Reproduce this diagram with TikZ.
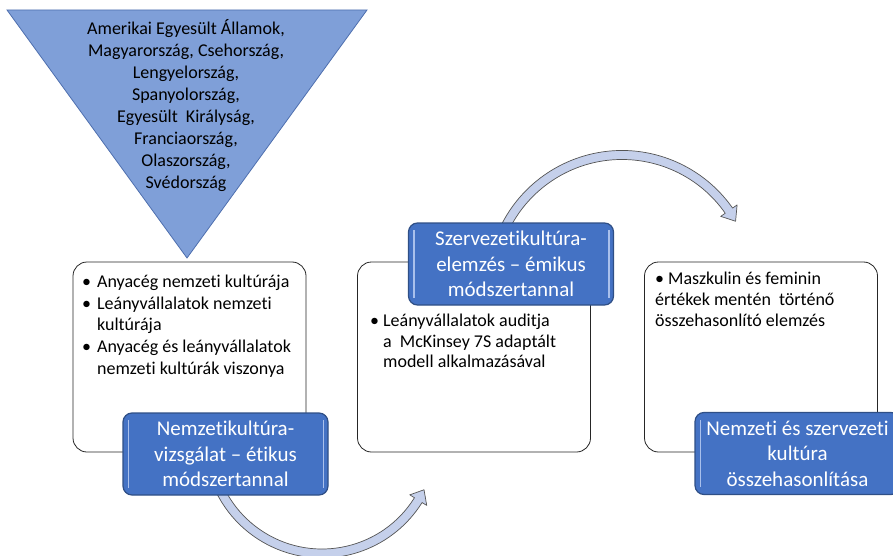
\documentclass[tikz,border=0pt]{standalone}
\usepackage{fontspec}
\setmainfont{Carlito}[Ligatures=NoCommon]
\usetikzlibrary{calc}

\definecolor{triblue}{HTML}{7F9FD8}
\definecolor{triline}{HTML}{4E6FAE}
\definecolor{stepblue}{HTML}{4472C4}
\definecolor{stepline}{HTML}{2F4F86}
\definecolor{hilite}{HTML}{A9C0EC}
\definecolor{arrowfill}{HTML}{C5D0EB}
\definecolor{arrowline}{HTML}{555555}

\tikzset{
  listbox/.style={draw=black!85, line width=0.8pt, rounded corners=14pt, fill=white,
    minimum width=233pt, minimum height=190pt, inner sep=0pt},
  stepbox/.style={draw=stepline, line width=1.2pt, fill=stepblue, rounded corners=9pt,
    minimum width=205pt, minimum height=82pt, inner sep=0pt, text=white, align=center,
    font=\fontsize{21}{25.5}\selectfont},
  hiline/.style={hilite, line width=1.6pt},
  listtext/.style={inner sep=0pt, anchor=north west, align=left,
    font=\fontsize{18}{21.7}\selectfont},
  bendarrow/.style={fill=arrowfill, draw=arrowline, line width=0.7pt, line join=round}
}

\begin{document}
\begin{tikzpicture}[x=1pt,y=1pt]
\useasboundingbox (0,0) rectangle (893,555);

\draw[fill=triblue, draw=triline, line width=0.8pt] (7,545) -- (367,545) -- (187,297) -- cycle;
\node[align=center, font=\fontsize{18}{22}\selectfont] (countries) at (186,449)
  {Amerikai Egyesült Államok,\\Magyarország, Csehország,\\Lengyelország,\\Spanyolország,\\
   Egyesült\ \ Királyság,\\Franciaország,\\Olaszország,\\Svédország};

\node[listbox] (etic) at (189.5,198) {};
\node[listbox] (emic) at (474,198) {};
\node[listbox] (compare) at (761,198) {};

\node[listtext] (eticlist) at (82,283)
  {\begin{tabular}{@{}l@{\hspace{6pt}}l@{}}
   \textbullet & Anyacég nemzeti kultúrája\\
   \textbullet & Leányvállalatok nemzeti\\
               & kultúrája\\
   \textbullet & Anyacég és leányvállalatok\\
               & nemzeti kultúrák viszonya
   \end{tabular}};
\node[listtext, font=\fontsize{18}{20.5}\selectfont] (emiclist) at (370,243)
  {\begin{tabular}{@{}l@{\hspace{4pt}}l@{}}
   \textbullet & Leányvállalatok auditja\\
               & a\ \ McKinsey 7S adaptált\\
               & modell alkalmazásával
   \end{tabular}};
\node[listtext, font=\fontsize{18}{21}\selectfont] (comparelist) at (655,283)
  {\textbullet\hspace{4pt}Maszkulin és feminin\\
   értékek mentén\ \ történő\\
   összehasonlító elemzés};

\coordinate (arcA) at (322,115);
\coordinate (arcB) at (622,269.5);

\draw[bendarrow] ($(arcA)+(200:118)$) arc[start angle=200, end angle=328, radius=118]
  -- ($(arcA)+(328:123.5)$) -- ($(arcA)+(334:113.5)$) -- ($(arcA)+(328:103.5)$)
  -- ($(arcA)+(328:109)$) arc[start angle=328, end angle=200, radius=109] -- cycle;
\draw[bendarrow] ($(arcB)+(160:135)$) arc[start angle=160, end angle=35, radius=135]
  -- ($(arcB)+(35:140.5)$) -- ($(arcB)+(29.5:130.5)$) -- ($(arcB)+(35:120.5)$)
  -- ($(arcB)+(35:126)$) arc[start angle=35, end angle=160, radius=126] -- cycle;

\node[stepbox] (eticstep) at (225.5,101) {Nemzetikultúra-\\vizsgálat – étikus\\módszertannal};
\node[stepbox] (emicstep) at (511,291) {Szervezetikultúra-\\elemzés – émikus\\módszertannal};
\node[stepbox] (comparestep) at (797.5,101.5) {Nemzeti és szervezeti\\kultúra\\összehasonlítása};

\foreach \n in {eticstep,emicstep,comparestep}{
  \draw[hiline] ([shift={(6pt,-8pt)}]\n.north west) -- ([shift={(6pt,8pt)}]\n.south west);
  \draw[hiline] ([shift={(-5pt,-8pt)}]\n.north east) -- ([shift={(-5pt,8pt)}]\n.south east);
}
\end{tikzpicture}
\end{document}
